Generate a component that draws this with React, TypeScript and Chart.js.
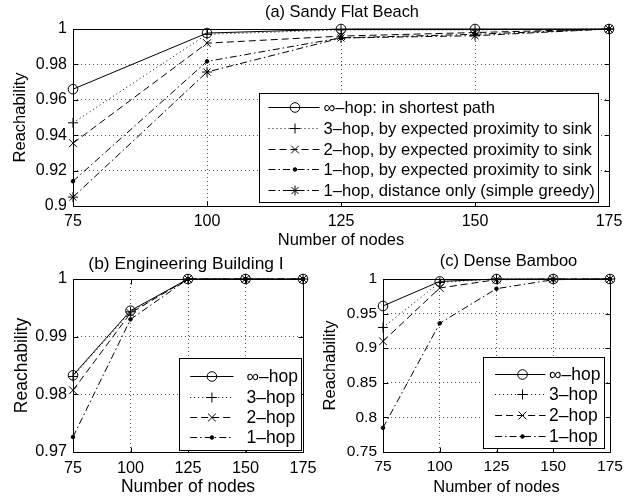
import React, { useEffect, useRef } from 'react';
import { Chart, registerables } from 'chart.js';
import { drawPoint } from 'chart.js/helpers';

Chart.register(...registerables);

const FONT = "'Liberation Sans', Arial, Helvetica, sans-serif";
const NARROW_FONT = "'Liberation Sans Narrow', 'Arial Narrow', 'Liberation Sans', sans-serif";

// ---------- data ----------
const nodeCounts = ['75', '100', '125', '150', '175'];

// (a) Sandy Flat Beach
const sandyInfHop = [0.966, 0.9977, 1.0, 1.0, 1.0];
const sandy3Hop = [0.947, 0.997, 0.9995, 0.9995, 1.0];
const sandy2Hop = [0.9355, 0.992, 0.996, 0.998, 1.0];
const sandy1Hop = [0.914, 0.9817, 0.995, 0.997, 1.0];
const sandyGreedy = [0.905, 0.9757, 0.9949, 0.9962, 1.0];
const sandyYTicks = [0.9, 0.92, 0.94, 0.96, 0.98, 1];

// (b) Engineering Building I
const engInfHop = [0.9833, 0.9945, 1.0, 1.0, 1.0];
const eng3Hop = [0.9831, 0.9943, 1.0, 1.0, 1.0];
const eng2Hop = [0.9807, 0.9941, 1.0, 1.0, 1.0];
const eng1Hop = [0.9726, 0.993, 1.0, 1.0, 1.0];
const engYTicks = [0.97, 0.98, 0.99, 1];

// (c) Dense Bamboo
const bambooInfHop = [0.961, 0.9965, 1.0, 1.0, 1.0];
const bamboo3Hop = [0.93, 0.995, 1.0, 1.0, 1.0];
const bamboo2Hop = [0.91, 0.987, 0.999, 1.0, 1.0];
const bamboo1Hop = [0.785, 0.936, 0.986, 0.999, 1.0];
const bambooYTicks = [0.75, 0.8, 0.85, 0.9, 0.95, 1];

const sandyLabels = [
  '∞–hop: in shortest path',
  '3–hop, by expected proximity to sink',
  '2–hop, by expected proximity to sink',
  '1–hop, by expected proximity to sink',
  '1–hop, distance only (simple greedy)',
];
const shortLabels = ['∞–hop', '3–hop', '2–hop', '1–hop'];

// ---------- styles ----------
const SERIES_STYLE = [
  { dash: [], point: 'circle', radius: 4.8, fill: 'rgba(0,0,0,0)' },
  { dash: [1, 3], point: 'cross', radius: 5, fill: '#000' },
  { dash: [7, 4], point: 'crossRot', radius: 5.5, fill: '#000' },
  { dash: [7, 3, 1.5, 3], point: 'circle', radius: 1.8, fill: '#000' },
  { dash: [7, 3, 1.5, 3], point: 'star', radius: 5, fill: '#000' },
];

interface LegendSpec {
  right: number; bottom: number; width: number; height: number;
  firstRow: number; rowHeight: number; lineStart: number; lineEnd: number;
  markerX: number; textX: number; fontSize: number;
}

interface TitleSpec { text: string; size: number; y: number; dx: number; family: string; }

interface Panel {
  key: string; left: number; top: number; width: number; height: number;
  title: TitleSpec; titleBlock: number;
  series: number[][]; labels: string[]; yTicks: number[];
  yAxisWidth: number; padRight: number; xAxisHeight: number;
  tickSize: number; axisTitleSize: number;
  xTickPad: number; yTickPad: number; xTitlePadBottom: number; yTitlePadTop: number;
  legend: LegendSpec;
}

const PANELS: Panel[] = [
  {
    key: 'a', left: 0, top: 0, width: 641, height: 250,
    title: { text: '(a) Sandy Flat Beach', size: 16.4, y: 12.7, dx: 1, family: FONT }, titleBlock: 29,
    series: [sandyInfHop, sandy3Hop, sandy2Hop, sandy1Hop, sandyGreedy],
    labels: sandyLabels, yTicks: sandyYTicks,
    yAxisWidth: 73, padRight: 32, xAxisHeight: 44,
    tickSize: 16, axisTitleSize: 16.5,
    xTickPad: 6.1, yTickPad: 6, xTitlePadBottom: 0.1, yTitlePadTop: 10.1,
    legend: { right: 11, bottom: 4, width: 339, height: 109, firstRow: 13.5, rowHeight: 20.8,
      lineStart: 9, lineEnd: 60, markerX: 35.5, textX: 64, fontSize: 16.6 },
  },
  {
    key: 'b', left: 0, top: 250, width: 330, height: 250,
    title: { text: '(b) Engineering Building I', size: 17.4, y: 14, dx: -2, family: FONT }, titleBlock: 29,
    series: [engInfHop, eng3Hop, eng2Hop, eng1Hop],
    labels: shortLabels, yTicks: engYTicks,
    yAxisWidth: 73, padRight: 27, xAxisHeight: 48,
    tickSize: 16.3, axisTitleSize: 17.5,
    xTickPad: 6.5, yTickPad: 6, xTitlePadBottom: 2.2, yTitlePadTop: 11.2,
    legend: { right: 2, bottom: 2.5, width: 122, height: 92, firstRow: 17.7, rowHeight: 20.3,
      lineStart: 10.7, lineEnd: 54, markerX: 32.4, textX: 67, fontSize: 17.5 },
  },
  {
    key: 'c', left: 320, top: 250, width: 321, height: 250,
    title: { text: '(c) Dense Bamboo', size: 16.5, y: 11.7, dx: 12, family: NARROW_FONT }, titleBlock: 29,
    series: [bambooInfHop, bamboo3Hop, bamboo2Hop, bamboo1Hop],
    labels: shortLabels, yTicks: bambooYTicks,
    yAxisWidth: 63, padRight: 31, xAxisHeight: 48,
    tickSize: 15.5, axisTitleSize: 16.5,
    xTickPad: 5.4, yTickPad: 6, xTitlePadBottom: 2.4, yTitlePadTop: 0.8,
    legend: { right: 6, bottom: 4, width: 121, height: 91, firstRow: 16.3, rowHeight: 20.6,
      lineStart: 11.6, lineEnd: 62, markerX: 39, textX: 65.6, fontSize: 17.5 },
  },
];

const fmt = (v: number) => parseFloat(Number(v).toFixed(4)).toString();

// ---------- plugins ----------
const titlePlugin = {
  id: 'panelTitle',
  afterDraw(chart: any, _args: any, opts: any) {
    const { ctx, chartArea } = chart;
    ctx.save();
    ctx.font = `${opts.size}px ${opts.family}`;
    ctx.fillStyle = '#000';
    ctx.textAlign = 'center';
    ctx.textBaseline = 'middle';
    ctx.fillText(opts.text, (chartArea.left + chartArea.right) / 2 + opts.dx, opts.y);
    ctx.restore();
  },
};

const framePlugin = {
  id: 'matlabFrame',
  afterDatasetsDraw(chart: any) {
    const { ctx, chartArea } = chart;
    const l = Math.round(chartArea.left) + 0.5;
    const r = Math.round(chartArea.right) + 0.5;
    const t = Math.round(chartArea.top) + 0.5;
    const b = Math.round(chartArea.bottom) + 0.5;
    const tl = 5;
    ctx.save();
    ctx.strokeStyle = '#000';
    ctx.lineWidth = 1;
    ctx.setLineDash([]);
    ctx.beginPath();
    ctx.rect(l, t, r - l, b - t);
    const xs = chart.scales.x;
    xs.ticks.forEach((_t: any, i: number) => {
      const px = Math.round(xs.getPixelForTick(i)) + 0.5;
      ctx.moveTo(px, b); ctx.lineTo(px, b - tl);
      ctx.moveTo(px, t); ctx.lineTo(px, t + tl);
    });
    const ys = chart.scales.y;
    ys.ticks.forEach((tk: any) => {
      const py = Math.round(ys.getPixelForValue(tk.value)) + 0.5;
      ctx.moveTo(l, py); ctx.lineTo(l + tl, py);
      ctx.moveTo(r, py); ctx.lineTo(r - tl, py);
    });
    ctx.stroke();
    ctx.restore();
  },
};

const legendPlugin = {
  id: 'boxLegend',
  afterDraw(chart: any, _args: any, opts: any) {
    const { ctx, chartArea } = chart;
    const x0 = Math.round(chartArea.right - opts.right - opts.width) + 0.5;
    const y0 = Math.round(chartArea.bottom - opts.bottom - opts.height) + 0.5;
    const w = Math.round(opts.width);
    const h = Math.round(opts.height);
    ctx.save();
    ctx.fillStyle = '#fff';
    ctx.fillRect(x0, y0, w, h);
    ctx.strokeStyle = '#000';
    ctx.lineWidth = 1;
    ctx.strokeRect(x0, y0, w, h);
    ctx.font = `${opts.fontSize}px ${FONT}`;
    ctx.textBaseline = 'middle';
    ctx.textAlign = 'left';
    chart.data.datasets.forEach((ds: any, i: number) => {
      const y = Math.round(y0 + opts.firstRow + i * opts.rowHeight) + 0.5;
      ctx.strokeStyle = '#000';
      ctx.lineWidth = 1;
      ctx.setLineDash(ds.borderDash || []);
      ctx.beginPath();
      ctx.moveTo(x0 + opts.lineStart, y);
      ctx.lineTo(x0 + opts.lineEnd, y);
      ctx.stroke();
      ctx.setLineDash([]);
      ctx.fillStyle = ds.pointBackgroundColor;
      ctx.strokeStyle = '#000';
      drawPoint(ctx, { pointStyle: ds.pointStyle, radius: ds.pointRadius, rotation: 0, borderWidth: 1 } as any,
        x0 + opts.markerX, y);
      ctx.fillStyle = '#000';
      ctx.fillText(ds.label, x0 + opts.textX, y + 1);
    });
    ctx.restore();
  },
};

function buildConfig(p: Panel): any {
  const tickFont = { family: FONT, size: p.tickSize, weight: 'normal' as const };
  const axisFont = { family: FONT, size: p.axisTitleSize, weight: 'normal' as const };
  return {
    type: 'line',
    data: {
      labels: nodeCounts,
      datasets: p.series.map((values, i) => {
        const s = SERIES_STYLE[i];
        return {
          label: p.labels[i],
          data: values,
          borderColor: '#000',
          borderWidth: 1,
          borderDash: s.dash,
          pointStyle: s.point,
          pointRadius: s.radius,
          pointBackgroundColor: s.fill,
          pointBorderColor: '#000',
          pointBorderWidth: 1,
          fill: false,
          tension: 0,
          clip: false,
          order: -i,
        };
      }),
    },
    options: {
      animation: false,
      responsive: false,
      maintainAspectRatio: false,
      devicePixelRatio: 1,
      events: [],
      layout: { padding: { left: 0, right: p.padRight, top: p.titleBlock, bottom: 0 } },
      plugins: {
        legend: { display: false },
        tooltip: { enabled: false },
        title: { display: false },
        panelTitle: p.title,
        boxLegend: p.legend,
      },
      scales: {
        x: {
          type: 'category',
          offset: false,
          grid: { color: '#555', lineWidth: 1, drawTicks: false },
          border: { display: false, dash: [1, 3] },
          ticks: { color: '#000', font: tickFont, padding: p.xTickPad, maxRotation: 0, autoSkip: false },
          title: {
            display: true, text: 'Number of nodes', color: '#000', font: axisFont,
            padding: { top: 0, bottom: p.xTitlePadBottom },
          },
          afterFit: (scale: any) => { scale.height = p.xAxisHeight; },
        },
        y: {
          type: 'linear',
          min: p.yTicks[0],
          max: p.yTicks[p.yTicks.length - 1],
          grid: { color: '#555', lineWidth: 1, drawTicks: false },
          border: { display: false, dash: [1, 3] },
          afterBuildTicks: (scale: any) => { scale.ticks = p.yTicks.map((v) => ({ value: v })); },
          ticks: { color: '#000', font: tickFont, padding: p.yTickPad, callback: (v: any) => fmt(v) },
          title: {
            display: true, text: 'Reachability', color: '#000', font: axisFont,
            padding: { top: p.yTitlePadTop, bottom: 0 },
          },
          afterFit: (scale: any) => { scale.width = p.yAxisWidth; },
        },
      },
    },
    plugins: [framePlugin, legendPlugin, titlePlugin],
  };
}

function ChartPanel({ panel }: { panel: Panel }) {
  const ref = useRef<HTMLCanvasElement>(null);
  useEffect(() => {
    const chart = new Chart(ref.current as HTMLCanvasElement, buildConfig(panel));
    return () => chart.destroy();
  }, [panel]);
  return (
    <div style={{ position: 'absolute', left: panel.left, top: panel.top, width: panel.width, height: panel.height }}>
      <canvas ref={ref} width={panel.width} height={panel.height}
        style={{ display: 'block', width: panel.width, height: panel.height }} />
    </div>
  );
}

export default function App() {
  return (
    <div style={{ position: 'absolute', left: 0, top: 0, width: 641, height: 500, background: '#fff', overflow: 'hidden' }}>
      {PANELS.map((p) => <ChartPanel key={p.key} panel={p} />)}
    </div>
  );
}
